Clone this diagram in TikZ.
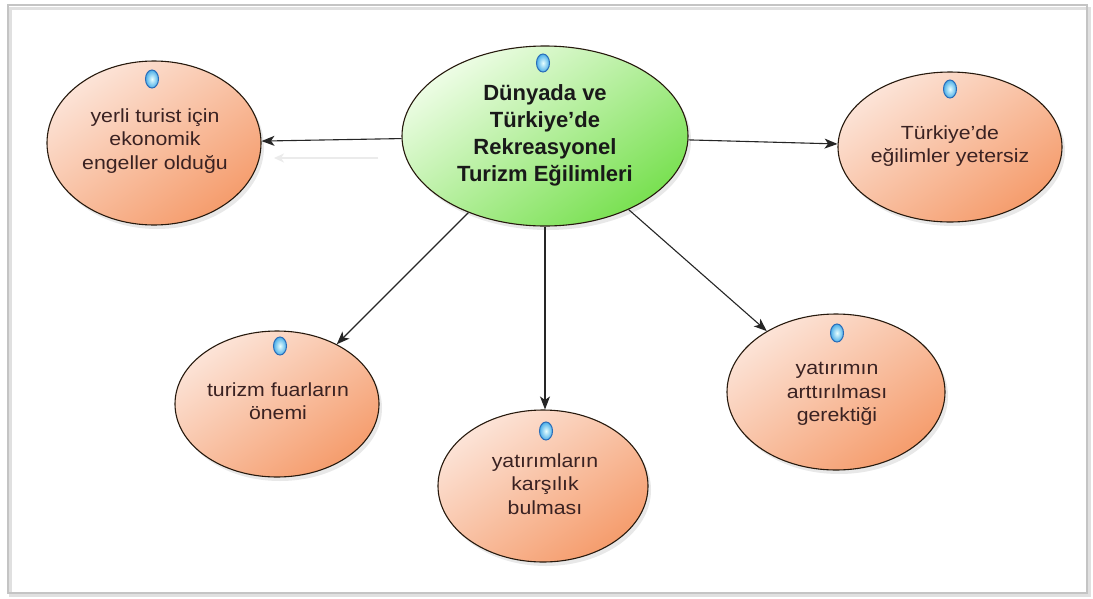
\documentclass[tikz,border=0pt]{standalone}
\usepackage{fontspec}
\setmainfont{Liberation Sans}
\newfontfamily\widefont[FakeStretch=1.12]{Liberation Sans}
\usetikzlibrary{shapes.geometric,arrows.meta,shadows}
\definecolor{txt}{HTML}{3A2222}
\definecolor{orA}{HTML}{FCE4D8}
\definecolor{orB}{HTML}{F59C6C}
\definecolor{grA}{HTML}{EEFDE6}
\definecolor{grB}{HTML}{78E050}
\definecolor{mkO}{HTML}{2A6CB8}
\definecolor{mkI}{HTML}{E8FFFF}
\definecolor{mkM}{HTML}{4AAEE8}
\definecolor{framec}{HTML}{C4C4C4}
\tikzset{
  bubble/.style={ellipse, draw=black!80!brown, line width=1.1pt, inner sep=0pt,
    shading=axis, top color=orA, bottom color=orB, shading angle=35,
    drop shadow={opacity=0.18, shadow xshift=3pt, shadow yshift=-4pt}},
  hub/.style={bubble, top color=grA, bottom color=grB, shading angle=35},
  label/.style={align=center, inner sep=0pt, text=txt,
    font=\widefont\fontsize{19}{23.5}\selectfont},
  hublabel/.style={align=center, inner sep=0pt, text=black!90,
    font=\bfseries\fontsize{22}{27}\selectfont},
  marker/.style={ellipse, draw=mkO, line width=1pt, minimum width=13pt,
    minimum height=18pt, inner sep=0pt, shading=radial, inner color=mkI, outer color=mkM},
  arr/.style={-{Stealth[length=13pt,width=10pt,inset=3.5pt]}, line width=1.1pt, draw=black!85},
  ghost/.style={-{Stealth[length=10pt,width=9pt,inset=3pt]}, line width=1.6pt, draw=black!8}
}
\begin{document}
\begin{tikzpicture}[x=1pt,y=-1pt]
\useasboundingbox (0,0) rectangle (1093,598);
\fill[white] (0,0) rectangle (1093,598);
% frame
\draw[black!12, line width=3pt] (10,8) rectangle (1089,595);
\draw[framec, line width=2pt] (8,5) rectangle (1087,593);

% ellipses
\node[hub, minimum width=286pt, minimum height=180pt] (c) at (545,136) {};
\node[bubble, minimum width=214pt, minimum height=164pt] (l) at (154,143) {};
\node[bubble, minimum width=224pt, minimum height=150pt] (r) at (950,147) {};
\node[bubble, minimum width=204pt, minimum height=146pt] (f) at (277,404) {};
\node[bubble, minimum width=210pt, minimum height=152pt] (b) at (543,486) {};
\node[bubble, minimum width=218pt, minimum height=156pt] (y) at (836,392) {};

% texts
\node[hublabel] (ct) at (545,135) {Dünyada ve\\Türkiye’de\\Rekreasyonel\\Turizm Eğilimleri};
\node[label] (lt) at (155,141) {yerli turist için\\ekonomik\\engeller olduğu};
\node[label] (rt) at (950,146) {Türkiye’de\\eğilimler yetersiz};
\node[label] (ft) at (278,401) {turizm fuarların\\önemi};
\node[label] (bt) at (545,484) {yatırımların\\karşılık\\bulması};
\node[label] (yt) at (837,394) {yatırımın\\arttırılması\\gerektiği};

% markers
\node[marker] (mc) at (543,63) {};
\node[marker] (ml) at (152,79) {};
\node[marker] (mr) at (950,89) {};
\node[marker] (mf) at (280,346) {};
\node[marker] (mb) at (546,431) {};
\node[marker] (my) at (837,333) {};

% connectors
\draw[arr] (c) -- (l);
\draw[arr] (c) -- (r);
\draw[arr] (c) -- (f);
\draw[arr] (c.south) -- (c.south |- b.north);
\draw[arr] (c) -- (y);

% faint ghost arrow
\coordinate (g1) at (378,158);
\coordinate (g2) at (274,158);
\draw[ghost] (g1) -- (g2);
\end{tikzpicture}
\end{document}
